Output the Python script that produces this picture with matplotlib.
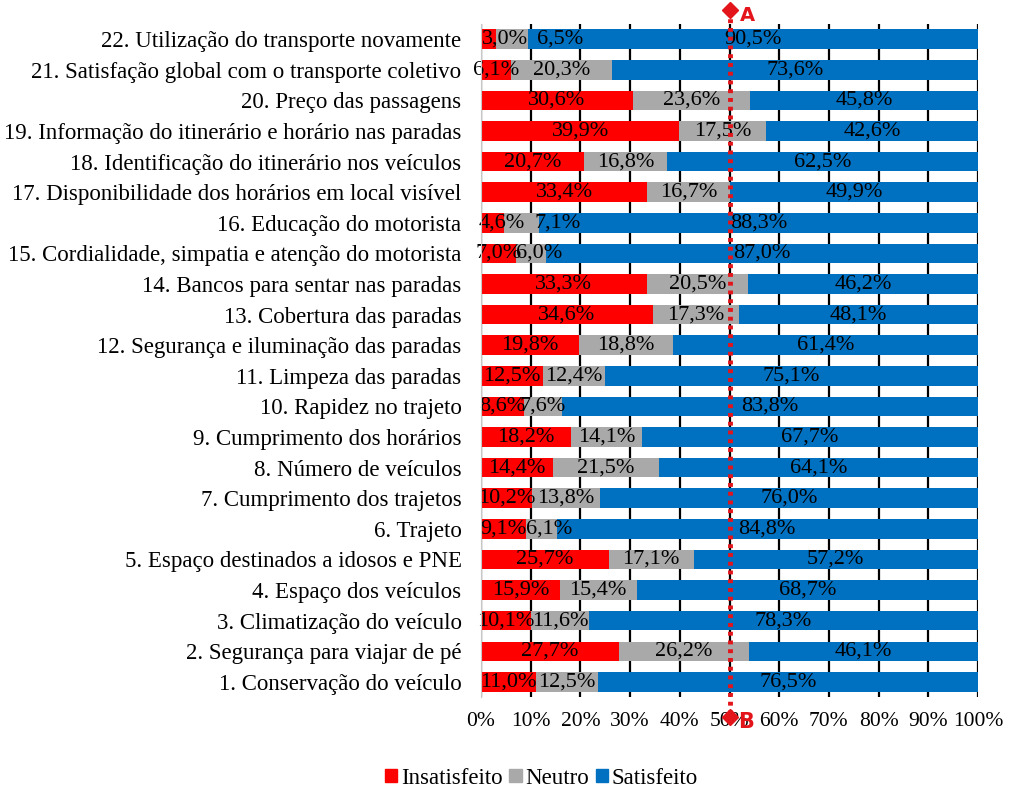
import numpy as np
import matplotlib.pyplot as plt
from matplotlib.patches import Patch

# Items (1..22, bottom to top)
items = [
    '1. Conservação do veículo',
    '2. Segurança para viajar de pé',
    '3. Climatização do veículo',
    '4. Espaço dos veículos',
    '5. Espaço destinados a idosos e PNE',
    '6. Trajeto',
    '7. Cumprimento dos trajetos',
    '8. Número de veículos',
    '9. Cumprimento dos horários',
    '10. Rapidez no trajeto',
    '11. Limpeza das paradas',
    '12. Segurança e iluminação das paradas',
    '13. Cobertura das paradas',
    '14. Bancos para sentar nas paradas',
    '15. Cordialidade, simpatia e atenção do motorista',
    '16. Educação do motorista',
    '17. Disponibilidade dos horários em local visível',
    '18. Identificação do itinerário nos veículos',
    '19. Informação do itinerário e horário nas paradas',
    '20. Preço das passagens',
    '21. Satisfação global com o transporte coletivo',
    '22. Utilização do transporte novamente',
]
insatisfeito = [11.0, 27.7, 10.1, 15.9, 25.7, 9.1, 10.2, 14.4, 18.2, 8.6, 12.5,
                19.8, 34.6, 33.3, 7.0, 4.6, 33.4, 20.7, 39.9, 30.6, 6.1, 3.0]
neutro = [12.5, 26.2, 11.6, 15.4, 17.1, 6.1, 13.8, 21.5, 14.1, 7.6, 12.4,
          18.8, 17.3, 20.5, 6.0, 7.1, 16.7, 16.8, 17.5, 23.6, 20.3, 6.5]
satisfeito = [76.5, 46.1, 78.3, 68.7, 57.2, 84.8, 76.0, 64.1, 67.7, 83.8, 75.1,
              61.4, 48.1, 46.2, 87.0, 88.3, 49.9, 62.5, 42.6, 45.8, 73.6, 90.5]
series = ['Insatisfeito', 'Neutro', 'Satisfeito']
colors = ['#FF0000', '#A9A9A9', '#0070C0']
ref_line = 50

# some labels on narrow segments were nudged right in the original (row, series): dx
label_shift = {(21, 0): 3.4, (21, 1): 9.6, (15, 0): 1.8, (15, 1): 7.2,
               (14, 1): 1.6, (5, 1): 1.6}

plt.rcParams['font.family'] = ['Liberation Serif', 'DejaVu Serif']

fig = plt.figure(figsize=(10.12, 7.95), dpi=100)
ax = fig.add_axes([0.4753, 0.123, 0.4911, 0.847])

y = np.arange(len(items))
left = np.zeros(len(items))
for k, (vals, name, col) in enumerate(zip([insatisfeito, neutro, satisfeito], series, colors)):
    vals = np.array(vals)
    ax.barh(y, vals, left=left, height=0.64, color=col, label=name, zorder=2)
    for yi, l, v in zip(y, left, vals):
        xc = l + v / 2 + label_shift.get((yi, k), 0)
        ax.text(xc, yi, f'{v:.1f}%'.replace('.', ','), ha='center', va='center',
                fontsize=16, color='black', zorder=3)
    left += vals

ax.set_xlim(0, 100)
ax.set_ylim(-0.5, len(items) - 0.5)
ax.set_yticks(y)
ax.set_yticklabels(items, fontsize=16.5)
ax.set_xticks(np.arange(0, 101, 10))
ax.set_xticklabels([f'{t}%' for t in range(0, 101, 10)], fontsize=15.5)
ax.tick_params(axis='y', length=0, pad=14)
ax.tick_params(axis='x', length=0, pad=11)
ax.grid(axis='x', color='black', linewidth=1.6, zorder=0)
ax.set_axisbelow(True)
for s in ['top', 'right', 'bottom']:
    ax.spines[s].set_visible(False)
ax.spines['left'].set_color('#C8C8C8')
ax.spines['left'].set_zorder(4)

# reference line A-B
red = '#E4141B'
tr = ax.get_xaxis_transform()
ax.plot([ref_line, ref_line], [1.02, -0.03], transform=tr, color=red, lw=3.5,
        linestyle=(0, (0.8, 1.0)), clip_on=False, zorder=5)
ax.plot([ref_line, ref_line], [1.02, -0.03], transform=tr, color=red, marker='D',
        markersize=8, linestyle='none', clip_on=False, zorder=6)
ax.text(ref_line + 2, 1.012, 'A', transform=tr, color=red, fontsize=14, fontweight='bold',
        family='DejaVu Sans', ha='left', va='center', clip_on=False)
ax.text(ref_line + 1.8, -0.037, 'B', transform=tr, color=red, fontsize=15, fontweight='bold',
        family='DejaVu Sans', ha='left', va='center', clip_on=False)

handles = [Patch(color=c, label=n) for c, n in zip(colors, series)]
fig.legend(handles=handles, loc='lower center', bbox_to_anchor=(0.535, -0.018), ncol=3,
           frameon=False, fontsize=16.5, handlelength=0.55, handleheight=0.55,
           handletextpad=0.15, columnspacing=0.3)

fig.savefig('out.png', dpi=100, facecolor='white')
